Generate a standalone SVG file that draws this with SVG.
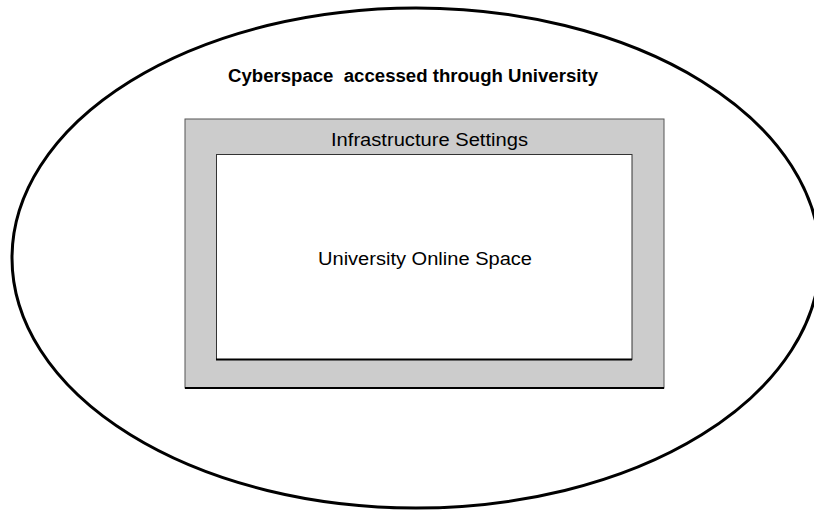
<svg xmlns="http://www.w3.org/2000/svg" width="814" height="513" viewBox="0 0 814 513">
<style>
.t{font-family:"Liberation Sans",Arial,sans-serif;fill:#000;text-anchor:middle}
</style>
<rect width="814" height="513" fill="#fff"/>
<g id="cyberspace">
<ellipse cx="416" cy="258" rx="404" ry="250" fill="#fff" stroke="#000" stroke-width="3"/>
<text class="t" x="413" y="82" font-size="17.5" font-weight="bold" textLength="370" lengthAdjust="spacingAndGlyphs" xml:space="preserve" style="white-space:pre">Cyberspace  accessed through University</text>
</g>
<g id="infrastructure">
<rect x="185" y="119" width="479" height="269" fill="#cccccc" stroke="#555" stroke-width="1"/>
<line x1="185" y1="388" x2="664" y2="388" stroke="#000" stroke-width="2"/>
<text class="t" x="429.5" y="146" font-size="17.5" textLength="197" lengthAdjust="spacingAndGlyphs">Infrastructure Settings</text>
</g>
<g id="online">
<rect x="216.5" y="154.5" width="415.5" height="205" fill="#fff" stroke="#333" stroke-width="1"/>
<line x1="216" y1="359.5" x2="632" y2="359.5" stroke="#000" stroke-width="2"/>
<text class="t" x="425" y="265" font-size="17.5" textLength="214" lengthAdjust="spacingAndGlyphs">University Online Space</text>
</g>
<g id="connectors"/>
</svg>
